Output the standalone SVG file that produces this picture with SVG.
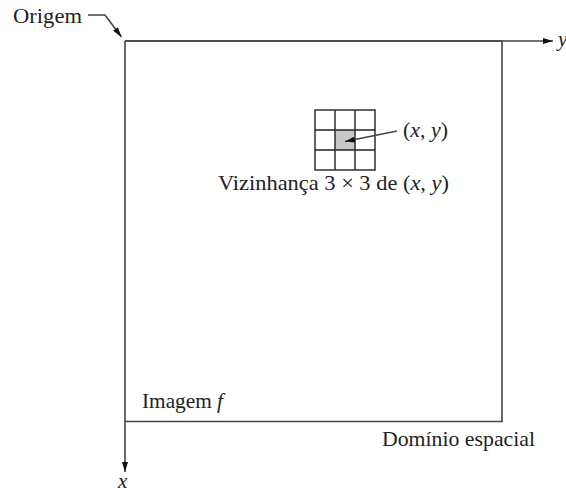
<svg xmlns="http://www.w3.org/2000/svg" width="566" height="493" viewBox="0 0 566 493">
<defs>
<style>
text{font-family:'Liberation Serif','DejaVu Serif','Times New Roman',serif;font-size:21px;fill:#222}
.i{font-style:italic}
.ln{stroke:#444;stroke-width:1.6;fill:none}
.g{stroke:#222;stroke-width:1.4;fill:none}
</style>
<marker id="ah" viewBox="0 0 10 6" refX="10" refY="3" markerWidth="10" markerHeight="6" markerUnits="userSpaceOnUse" orient="auto">
<path d="M0,0 L10,3 L0,6 Z" fill="#111"/>
</marker>
</defs>
<rect width="566" height="493" fill="#fff"/>
<g id="image">
<polyline class="ln" points="125,41 502,41 502,421.5 125,421.5"/>
</g>
<g id="neighborhood">
<rect x="335" y="130" width="20" height="20" fill="#c8c8c8"/>
<rect class="g" x="315" y="110" width="60" height="60"/>
<path class="g" d="M335,110V170M355,110V170M315,130H375M315,150H375"/>
</g>
<g id="connectors">
<line class="ln" x1="125" y1="41" x2="553" y2="41" marker-end="url(#ah)"/>
<line class="ln" x1="125" y1="41" x2="125" y2="472" marker-end="url(#ah)"/>
<polyline class="ln" points="88,15 105,15 121.5,37" marker-end="url(#ah)"/>
<line class="ln" x1="397" y1="131" x2="345" y2="141.5" marker-end="url(#ah)"/>
</g>
<g id="labels">
<text x="13" y="23" textLength="69" lengthAdjust="spacingAndGlyphs">Origem</text>
<text x="403" y="137" textLength="45" lengthAdjust="spacingAndGlyphs">(<tspan class="i">x</tspan>, <tspan class="i">y</tspan>)</text>
<text x="218" y="190" textLength="231" lengthAdjust="spacingAndGlyphs">Vizinhança 3 × 3 de (<tspan class="i">x</tspan>, <tspan class="i">y</tspan>)</text>
<text x="142" y="408" textLength="81" lengthAdjust="spacingAndGlyphs">Imagem <tspan class="i">f</tspan></text>
<text x="382" y="446" textLength="153" lengthAdjust="spacingAndGlyphs">Domínio espacial</text>
<text class="i" x="118" y="488">x</text>
<text class="i" x="558" y="46">y</text>
</g>
</svg>
